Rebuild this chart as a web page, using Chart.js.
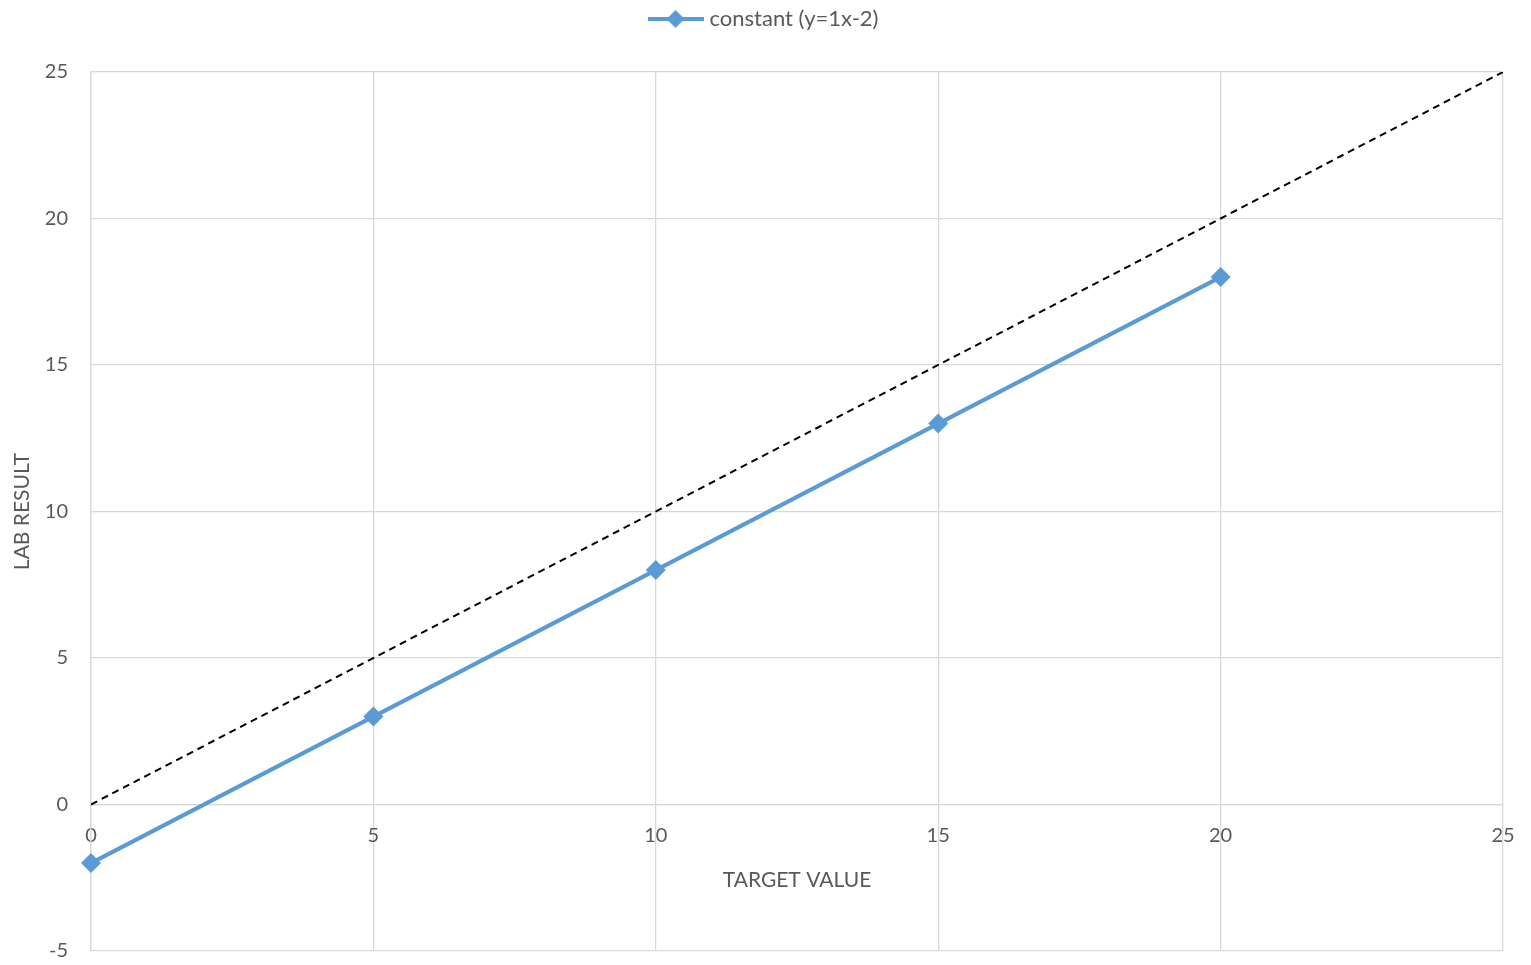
<!DOCTYPE html>
<html>
<head>
<meta charset="utf-8">
<script src="https://cdn.jsdelivr.net/npm/chart.js@4/dist/chart.umd.min.js"></script>
<style>
  html, body { margin: 0; padding: 0; background: #ffffff; }
  #wrap { width: 1531px; height: 965px; position: relative; }
</style>
</head>
<body>
<div id="wrap"><canvas id="chart"></canvas></div>
<script>
// Measured series: target value vs. lab result (constant offset of -2)
const targetValues = [0, 5, 10, 15, 20];
const labResults = [-2, 3, 8, 13, 18];
const seriesName = 'constant (y=1x-2)';

// Identity reference line (lab result equals target)
const identityX = [0, 25];
const identityY = [0, 25];

// Axis ranges and tick steps
const xRange = [0, 25];
const yRange = [-5, 25];
const tickStep = 5;

const axisTitleX = 'TARGET VALUE';
const axisTitleY = 'LAB RESULT';

const BLUE = '#5B9BD5';
const GRID = '#d9d9d9';
const TEXT = '#595959';

Chart.defaults.font.family = 'Lato, "Open Sans", sans-serif';
Chart.defaults.font.size = 20;
Chart.defaults.color = TEXT;

// Legend symbol: a short line with a diamond on it
function legendSymbol() {
  const c = document.createElement('canvas');
  c.width = 56; c.height = 20;
  const g = c.getContext('2d');
  g.strokeStyle = BLUE; g.lineWidth = 4;
  g.beginPath(); g.moveTo(0, 10); g.lineTo(56, 10); g.stroke();
  g.fillStyle = BLUE;
  g.beginPath(); g.moveTo(28, 1); g.lineTo(37, 10); g.lineTo(28, 19); g.lineTo(19, 10); g.closePath(); g.fill();
  return c;
}

const toPoints = (xs, ys) => xs.map((x, i) => ({ x: x, y: ys[i] }));

// Adds room between the legend and the plot area
const legendGap = {
  id: 'legendGap',
  beforeInit(chart) {
    const fit = chart.legend.fit;
    chart.legend.fit = function () {
      fit.call(this);
      this.height += 32;
    };
  }
};

new Chart(document.getElementById('chart'), {
  type: 'scatter',
  data: {
    datasets: [
      {
        label: seriesName,
        data: toPoints(targetValues, labResults),
        showLine: true,
        clip: false,
        borderColor: BLUE,
        backgroundColor: BLUE,
        borderWidth: 4,
        pointStyle: 'rectRot',
        pointRadius: 10,
        pointHoverRadius: 10,
        pointBorderWidth: 0,
        pointBackgroundColor: BLUE
      },
      {
        label: 'y = x',
        data: toPoints(identityX, identityY),
        showLine: true,
        borderColor: '#000000',
        borderWidth: 2,
        borderDash: [7, 5],
        pointRadius: 0,
        pointHoverRadius: 0
      }
    ]
  },
  options: {
    responsive: true,
    maintainAspectRatio: false,
    animation: false,
    layout: { padding: { left: 0, right: 0, top: 0, bottom: 14 } },
    plugins: {
      tooltip: { enabled: false },
      legend: {
        position: 'top',
        labels: {
          usePointStyle: true,
          pointStyleWidth: 46,
          padding: 8,
          color: TEXT,
          font: { size: 22 },
          generateLabels: () => [{
            text: seriesName,
            datasetIndex: 0,
            pointStyle: legendSymbol(),
            fillStyle: BLUE,
            strokeStyle: BLUE,
            lineWidth: 0,
            fontColor: TEXT
          }]
        }
      }
    },
    scales: {
      x: {
        type: 'linear',
        min: xRange[0],
        max: xRange[1],
        position: { y: 0 },
        afterFit: (scale) => {
          scale.height = 0;
          scale.paddingLeft = 0;
          scale.paddingRight = 28;
        },
        grid: { color: GRID, lineWidth: 1.3, drawTicks: false },
        border: { color: GRID, width: 1.3 },
        ticks: { stepSize: tickStep, padding: 19, color: TEXT, font: { size: 20 } },
        title: {
          display: true,
          text: axisTitleX,
          color: TEXT,
          font: { size: 21 },
          padding: { top: 0, bottom: -88.6 }
        }
      },
      y: {
        type: 'linear',
        min: yRange[0],
        max: yRange[1],
        position: 'left',
        afterFit: (scale) => {
          scale.width = 91;
          scale.paddingTop = 0;
          scale.paddingBottom = 0;
        },
        grid: { color: GRID, lineWidth: 1.3, drawTicks: false },
        border: { color: GRID, width: 1.3 },
        ticks: { stepSize: tickStep, padding: 23, color: TEXT, font: { size: 20 } },
        title: {
          display: true,
          text: axisTitleY,
          color: TEXT,
          font: { size: 21 },
          padding: { top: 9.4, bottom: 10 }
        }
      }
    }
  },
  plugins: [legendGap]
});
</script>
</body>
</html>
